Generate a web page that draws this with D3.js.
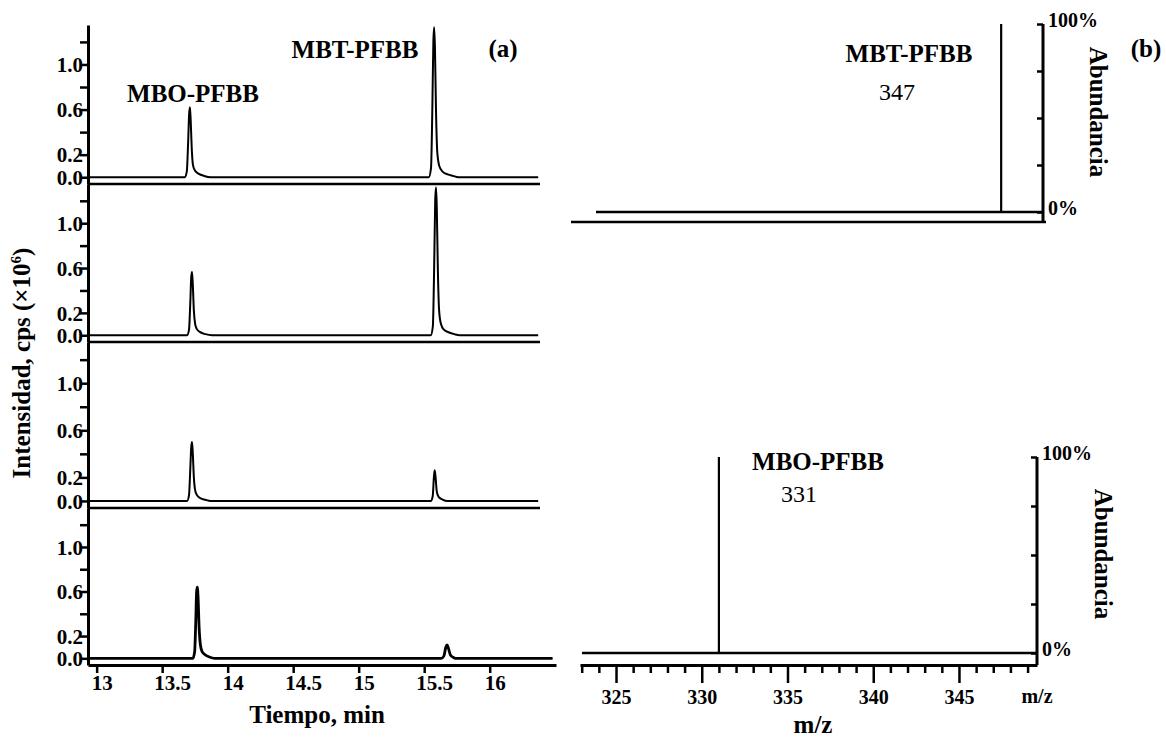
<!DOCTYPE html>
<html>
<head>
<meta charset="utf-8">
<script src="https://cdn.jsdelivr.net/npm/d3@7"></script>
<style>
body { margin: 0; background: #fff; }
svg { font-family: "Liberation Serif", "Times New Roman", serif; }
.axis path, .axis line { stroke: #000; }
.label { font-weight: bold; font-size: 25px; }
</style>
</head>
<body>
<div id="chart"></div>
<script>
// retention time ticks and intensity ticks (panel a)
var timeTicks = [13, 13.5, 14, 14.5, 15, 15.5, 16];
var intensityTicks = [0, 0.2, 0.4, 0.6, 0.8, 1.0, 1.2];
var intensityLabels = ["0.0", "0.2", "", "0.6", "", "1.0", ""];

// chromatograms: [time (min), intensity (x10^6 cps)]
var trace1 = [[12.934,0],[13.672,0],[13.688,0.05],[13.698,0.3],[13.706,0.56],[13.712,0.62],[13.718,0.5],[13.726,0.25],[13.735,0.11],[13.75,0.06],[13.78,0.03],[13.82,0.012],[13.87,0],
  [15.535,0],[15.552,0.08],[15.562,0.6],[15.57,1.2],[15.576,1.33],[15.582,1.15],[15.59,0.6],[15.6,0.22],[15.615,0.1],[15.64,0.05],[15.68,0.025],[15.72,0.012],[15.76,0],[16.37,0]];
var trace2 = [[12.934,0],[13.69,0],[13.705,0.05],[13.715,0.3],[13.722,0.52],[13.728,0.565],[13.734,0.45],[13.742,0.22],[13.752,0.1],[13.765,0.055],[13.79,0.028],[13.83,0.01],[13.88,0],
  [15.55,0],[15.566,0.08],[15.576,0.6],[15.584,1.2],[15.59,1.32],[15.596,1.15],[15.604,0.6],[15.614,0.22],[15.628,0.1],[15.65,0.05],[15.69,0.025],[15.73,0.01],[15.77,0],[16.37,0]];
var trace3 = [[12.934,0],[13.69,0],[13.705,0.05],[13.715,0.28],[13.722,0.46],[13.728,0.5],[13.734,0.4],[13.742,0.2],[13.752,0.09],[13.765,0.05],[13.79,0.025],[13.83,0.01],[13.87,0],
  [15.55,0],[15.565,0.04],[15.574,0.2],[15.58,0.26],[15.587,0.2],[15.596,0.08],[15.61,0.035],[15.64,0.012],[15.68,0],[16.37,0]];
var trace4 = [[12.934,0],[13.735,0],[13.748,0.06],[13.757,0.35],[13.763,0.6],[13.768,0.64],[13.774,0.55],[13.782,0.28],[13.792,0.12],[13.805,0.06],[13.83,0.03],[13.86,0.012],[13.9,0],
  [15.63,0],[15.65,0.02],[15.665,0.1],[15.675,0.12],[15.685,0.09],[15.7,0.03],[15.72,0.01],[15.74,0],[16.48,0]];
var traces = [trace1, trace2, trace3, trace4];
var peakNames = ["MBO-PFBB", "MBT-PFBB"];

// mass spectra (panel b): [m/z, relative abundance %]
var spectrumMBT = [[347, 100]];
var spectrumMBO = [[331, 100]];
var mzMajorTicks = [325, 330, 335, 340, 345];
var mzMinorTicks = [323, 324, 326, 327, 328, 329, 331, 332, 333, 334, 336, 337, 338, 339, 341, 342, 343, 344, 346, 347, 348, 349];
var abundanceTicks = [0, 25, 50, 75, 100];
var abundanceLabels = ["0%", "", "", "", "100%"];

var width = 1166, height = 740;
var serif = '"Liberation Serif", "Times New Roman", serif';

var svg = d3.select("#chart").append("svg")
  .attr("width", width)
  .attr("height", height);

// d3 axes default to sans-serif, force the serif bold look of the figure
function styleTicks(g, size) {
  g.selectAll("text")
    .style("font-family", serif)
    .style("font-weight", "bold")
    .style("font-size", size + "px")
    .attr("fill", "#000");
}

// ---------- panel (a): stacked chromatograms ----------

var panelEdges = [25, 184, 342, 508, 665];
var axisX = 88;

var xA = d3.scaleLinear().domain([12.934, 16.506]).range([88, 556]);

var line = d3.line().curve(d3.curveMonotoneX);

traces.forEach(function(tr, i) {
  var yA = d3.scaleLinear().domain([-0.06, 1.35]).range([panelEdges[i + 1], panelEdges[i]]);

  var ax = svg.append("g")
    .attr("class", "axis")
    .attr("transform", "translate(" + axisX + ",0)")
    .call(d3.axisLeft(yA)
      .tickValues(intensityTicks)
      .tickSizeInner(8)
      .tickSizeOuter(0)
      .tickPadding(-3)
      .tickFormat(function(d, j) { return intensityLabels[j]; }));
  ax.select(".domain").attr("stroke-width", 3);
  ax.selectAll(".tick line").attr("stroke-width", 2.5);
  styleTicks(ax, 21);
  ax.selectAll("text").attr("dy", "0.34em");

  // panel bottom line
  if (i < 3) {
    svg.append("line")
      .attr("x1", axisX).attr("x2", 540)
      .attr("y1", panelEdges[i + 1]).attr("y2", panelEdges[i + 1])
      .attr("stroke", "#000").attr("stroke-width", 2.5);
  }

  line.x(function(d) { return xA(d[0]); }).y(function(d) { return yA(d[1]); });
  svg.append("path")
    .datum(tr)
    .attr("d", line)
    .attr("fill", "none")
    .attr("stroke", "#000")
    .attr("stroke-width", i == 3 ? 2.8 : 2)
    .attr("stroke-linejoin", "round");
});

// time axis
var xAxisA = svg.append("g")
  .attr("class", "axis")
  .attr("transform", "translate(0," + panelEdges[4] + ")")
  .call(d3.axisBottom(xA)
    .tickValues(timeTicks)
    .tickSizeInner(8)
    .tickSizeOuter(0)
    .tickPadding(2)
    .tickFormat(function(d) { return String(d); }));
xAxisA.select(".domain").attr("stroke-width", 3);
xAxisA.selectAll(".tick line").attr("stroke-width", 2.5);
styleTicks(xAxisA, 21);
xAxisA.selectAll("text")
  .attr("dx", function(d) { return d % 1 === 0 ? 5 : 10; });

svg.append("text").attr("class", "label")
  .attr("x", 317).attr("y", 723).attr("text-anchor", "middle")
  .text("Tiempo, min");

var yTitle = svg.append("text").attr("class", "label")
  .attr("transform", "translate(30,363) rotate(-90)")
  .attr("text-anchor", "middle");
yTitle.append("tspan").text("Intensidad, cps (\u00d710");
yTitle.append("tspan").attr("font-size", 15).attr("dy", -9).text("6");
yTitle.append("tspan").attr("dy", 9).text(")");

svg.append("text").attr("class", "label")
  .attr("x", 193).attr("y", 102).attr("text-anchor", "middle")
  .text(peakNames[0]);
svg.append("text").attr("class", "label")
  .attr("x", 355).attr("y", 58).attr("text-anchor", "middle")
  .text(peakNames[1]);
svg.append("text").attr("class", "label")
  .attr("x", 503).attr("y", 57).attr("text-anchor", "middle")
  .text("(a)");

// ---------- panel (b): mass spectra ----------

function drawSpectrum(opts) {
  var x = d3.scaleLinear().domain(opts.mzDomain).range(opts.xRange);
  var y = d3.scaleLinear().domain([0, 100]).range(opts.yRange);

  // zero line
  svg.append("line")
    .attr("x1", opts.baseStart).attr("x2", opts.axisRight)
    .attr("y1", y(0)).attr("y2", y(0))
    .attr("stroke", "#000").attr("stroke-width", 2.5);

  // sticks
  svg.selectAll(null)
    .data(opts.data)
    .enter().append("line")
    .attr("x1", function(d) { return x(d[0]); })
    .attr("x2", function(d) { return x(d[0]); })
    .attr("y1", y(0))
    .attr("y2", function(d) { return y(d[1]); })
    .attr("stroke", "#000").attr("stroke-width", 2.2);

  // right abundance axis
  svg.append("line")
    .attr("x1", opts.axisRight).attr("x2", opts.axisRight)
    .attr("y1", y(100)).attr("y2", opts.axisY)
    .attr("stroke", "#000").attr("stroke-width", 3);
  var ay = svg.append("g")
    .attr("class", "axis")
    .attr("transform", "translate(" + opts.axisRight + ",0)")
    .call(d3.axisRight(y)
      .tickValues(abundanceTicks)
      .tickSizeInner(-6)
      .tickSizeOuter(0)
      .tickPadding(5)
      .tickFormat(function(d, j) { return abundanceLabels[j]; }));
  ay.select(".domain").remove();
  ay.selectAll(".tick line").attr("stroke-width", 2.5);
  styleTicks(ay, 20);
  ay.selectAll("text").attr("dy", "0.1em");

  svg.append("text").attr("class", "label")
    .attr("transform", "translate(" + opts.titleX + "," + opts.titleY + ") rotate(90)")
    .attr("text-anchor", "middle")
    .text("Abundancia");

  return x;
}

// top: MBT-PFBB
drawSpectrum({
  data: spectrumMBT,
  mzDomain: [321.9, 349.5],
  xRange: [571, 1044],
  yRange: [212, 24],
  baseStart: 596,
  axisRight: 1043,
  axisY: 222,
  titleX: 1090,
  titleY: 112
});
svg.append("line")
  .attr("x1", 571).attr("x2", 1046)
  .attr("y1", 222).attr("y2", 222)
  .attr("stroke", "#000").attr("stroke-width", 2.5);

svg.append("text").attr("class", "label")
  .attr("x", 909).attr("y", 62).attr("text-anchor", "middle")
  .text(peakNames[1]);
svg.append("text")
  .attr("x", 897).attr("y", 100).attr("text-anchor", "middle")
  .attr("font-size", 24)
  .text(String(spectrumMBT[0][0]));
svg.append("text").attr("class", "label")
  .attr("x", 1146).attr("y", 57).attr("text-anchor", "middle")
  .text("(b)");

// bottom: MBO-PFBB
var xB = drawSpectrum({
  data: spectrumMBO,
  mzDomain: [322.9, 349.55],
  xRange: [580, 1037],
  yRange: [653, 457],
  baseStart: 582,
  axisRight: 1037,
  axisY: 665,
  titleX: 1095,
  titleY: 554
});

var mzAxis = svg.append("g")
  .attr("class", "axis")
  .attr("transform", "translate(0,665)")
  .call(d3.axisBottom(xB)
    .tickValues(mzMajorTicks)
    .tickSizeInner(18)
    .tickSizeOuter(0)
    .tickPadding(7)
    .tickFormat(d3.format("d")));
mzAxis.select(".domain").attr("stroke-width", 3);
mzAxis.selectAll(".tick line").attr("stroke-width", 2.5);
styleTicks(mzAxis, 20);

var mzMinor = svg.append("g")
  .attr("class", "axis")
  .attr("transform", "translate(0,665)")
  .call(d3.axisBottom(xB)
    .tickValues(mzMinorTicks)
    .tickSizeInner(8)
    .tickSizeOuter(0)
    .tickFormat(""));
mzMinor.select(".domain").remove();
mzMinor.selectAll(".tick line").attr("stroke-width", 2.5);

svg.append("text")
  .attr("x", 1037).attr("y", 703).attr("text-anchor", "middle")
  .attr("font-size", 20).attr("font-weight", "bold")
  .text("m/z");
svg.append("text").attr("class", "label")
  .attr("x", 813).attr("y", 733).attr("text-anchor", "middle")
  .text("m/z");

svg.append("text").attr("class", "label")
  .attr("x", 818).attr("y", 470).attr("text-anchor", "middle")
  .text(peakNames[0]);
svg.append("text")
  .attr("x", 799).attr("y", 502).attr("text-anchor", "middle")
  .attr("font-size", 24)
  .text(String(spectrumMBO[0][0]));
</script>
</body>
</html>
